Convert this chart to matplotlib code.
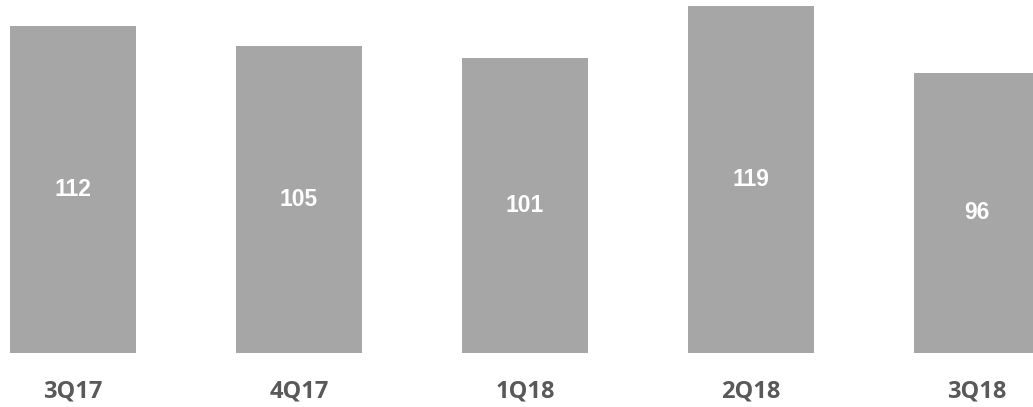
import matplotlib.pyplot as plt

quarters = ["3Q17", "4Q17", "1Q18", "2Q18", "3Q18"]
values = [112, 105, 101, 119, 96]

fig = plt.figure(figsize=(10.33, 4.07), dpi=100)
# axes area: baseline at y=353px, full width
ax = fig.add_axes([0, 54 / 407, 1, 353 / 407])

x = list(range(len(quarters)))
ax.bar(x, values, width=0.558, color="#a6a6a6")

for xi, v in zip(x, values):
    ax.text(xi, v / 2, str(v), ha="center", va="center", color="white",
            fontsize=16.5, fontweight="bold", family="Liberation Sans")

ax.set_xlim(-73 / 226, 960 / 226)
ax.set_ylim(0, 353 / 2.92)
ax.set_xticks(x)
ax.set_xticklabels(quarters, fontsize=17, fontweight="bold", color="#595959",
                   family="Open Sans")
ax.tick_params(axis="x", length=0, pad=19)
ax.set_yticks([])
for s in ax.spines.values():
    s.set_visible(False)

fig.savefig("out.png", dpi=100)
